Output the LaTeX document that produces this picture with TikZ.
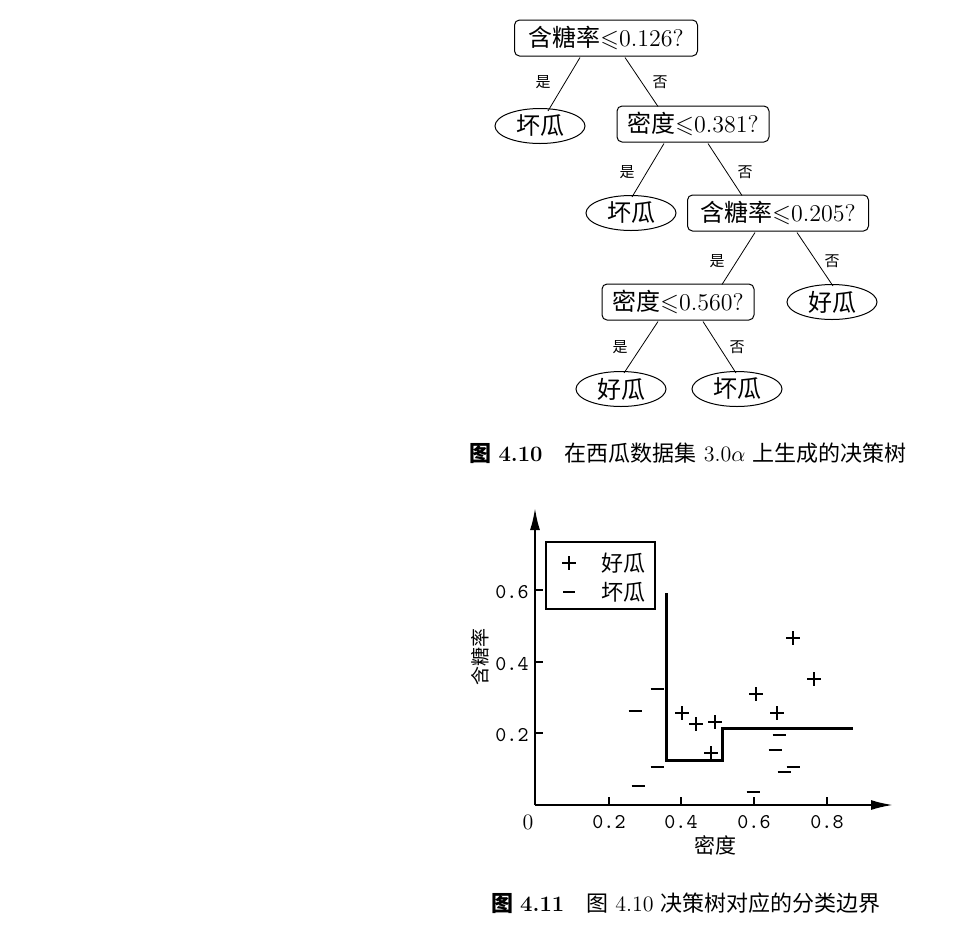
\documentclass[tikz,border=0pt]{standalone}
\usepackage{amssymb}
\usepackage{fontspec}
\newfontfamily\cjk{Noto Sans CJK SC}
\usetikzlibrary{shapes.geometric,calc,arrows.meta}
\begin{document}
\begin{tikzpicture}[x=0.5pt,y=-0.5pt,
  qbox/.style={draw, rounded corners=2.5pt, inner sep=0pt, minimum height=18pt, line width=0.5pt, font=\fontsize{12}{14}\selectfont},
  leaf/.style={draw, ellipse, inner sep=0pt, minimum width=45pt, minimum height=17.5pt, line width=0.5pt, font=\fontsize{12}{14}\selectfont\cjk},
  yn/.style={inner sep=0pt, font=\fontsize{7.5}{8}\selectfont\cjk},
  treeedge/.style={line width=0.4pt},
  axisline/.style={line width=1pt, -{Latex[length=11pt,width=5pt]}},
  tk/.style={line width=0.8pt},
  tlab/.style={inner sep=0pt, font=\fontsize{10.5}{12}\selectfont\ttfamily},
  bd/.style={line width=1.5pt},
  mk/.style={line width=1pt},
  captext/.style={inner sep=0pt, font=\fontsize{11}{13}\selectfont}
]
\useasboundingbox (0,0) rectangle (965,938);

% ---------------- tree ----------------
\node[qbox, minimum width=91.5pt] (n1) at (606,38) {{\cjk 含糖率}$\leqslant$0.126?};
\node[leaf] (l1) at (540,126) {坏瓜};
\node[qbox, minimum width=76pt] (n2) at (693,124) {{\cjk 密度}$\leqslant$0.381?};
\node[leaf] (l2) at (631,213) {坏瓜};
\node[qbox, minimum width=90.5pt] (n3) at (778,213) {{\cjk 含糖率}$\leqslant$0.205?};
\node[qbox, minimum width=76pt] (n4) at (678,302) {{\cjk 密度}$\leqslant$0.560?};
\node[leaf] (l3) at (832,302) {好瓜};
\node[leaf] (l4) at (621,389) {好瓜};
\node[leaf] (l5) at (737,389) {坏瓜};

\draw[treeedge] ($(n1.south)+(-26,1)$) -- ($(l1.north)+(8,3)$);
\draw[treeedge] ($(n1.south)+(19,1)$) -- ($(n2.north)+(-35,1)$);
\draw[treeedge] ($(n2.south)+(-29,1)$) -- ($(l2.north)+(1,2)$);
\draw[treeedge] ($(n2.south)+(15,1)$) -- ($(n3.north)+(-36,1)$);
\draw[treeedge] ($(n3.south)+(-23,1)$) -- ($(n4.north)+(44,1)$);
\draw[treeedge] ($(n3.south)+(19,1)$) -- ($(l3.north)+(1,2)$);
\draw[treeedge] ($(n4.south)+(-20,1)$) -- ($(l4.north)+(3,2)$);
\draw[treeedge] ($(n4.south)+(25,1)$) -- ($(l5.north)+(-1,2)$);

\node[yn] (y1) at (543,82) {是};
\node[yn] (f1) at (660,82) {否};
\node[yn] (y2) at (627,172) {是};
\node[yn] (f2) at (745,172) {否};
\node[yn] (y3) at (717,261) {是};
\node[yn] (f3) at (832,261) {否};
\node[yn] (y4) at (620,347) {是};
\node[yn] (f4) at (737,347) {否};

\node[captext] (cap1) at (688,453) {{\cjk\bfseries 图}\ \textbf{4.10}\quad{\cjk 在西瓜数据集}\ 3.0$\alpha$\ {\cjk 上生成的决策树}};

% ---------------- plot ----------------
\coordinate (O) at (535,805);
\coordinate (Ytip) at (535,508);
\coordinate (Xtip) at (893,805);
\draw[axisline] (O) -- (Ytip);
\draw[axisline] (O) -- (Xtip);

\foreach \x in {609,681,754,827} \draw[tk] (\x,805) -- (\x,797);
\foreach \y in {590,662,733} \draw[tk] (535,\y) -- (543,\y);

\node[tlab] (xt2) at (609,822) {0.2};
\node[tlab] (xt4) at (681,822) {0.4};
\node[tlab] (xt6) at (754,822) {0.6};
\node[tlab] (xt8) at (827,822) {0.8};
\node[inner sep=0pt, font=\fontsize{11}{12}\selectfont] (x0) at (528,822) {0};
\node[tlab] (yt6) at (512,592) {0.6};
\node[tlab] (yt4) at (512,664) {0.4};
\node[tlab] (yt2) at (512,735) {0.2};

\node[inner sep=0pt, font=\fontsize{10.5}{12}\selectfont\cjk] (xl) at (715,845) {密度};
\node[inner sep=0pt, rotate=90, font=\fontsize{9.5}{11}\selectfont\cjk] (yl) at (480,657) {含糖率};

% legend
\draw[line width=0.6pt] (546,542) rectangle (655,609);
\draw[mk] (562,563) -- (576,563) (569,556) -- (569,570);
\draw[mk] (563,592) -- (575,592);
\node[inner sep=0pt, font=\fontsize{11}{12}\selectfont\cjk] (lg1) at (623,563) {好瓜};
\node[inner sep=0pt, font=\fontsize{11}{12}\selectfont\cjk] (lg2) at (623,592) {坏瓜};

% boundary
\draw[bd] (666,593) -- (666,760) -- (722,760) -- (722,728) -- (853,728);

% good (+)
\foreach \x/\y in {682/713, 696/724, 715/722, 711/753, 756/694, 793/638, 814/679, 777/713}
  \draw[mk] (\x-7,\y) -- (\x+7,\y) (\x,\y-7) -- (\x,\y+7);
% bad (-)
\foreach \x/\y in {635/711, 657/689, 657/767, 638/786, 779/735, 775/750, 784/772, 793/767, 753/792}
  \draw[mk] (\x-6.5,\y) -- (\x+6.5,\y);

\node[captext] (cap2) at (686,903) {{\cjk\bfseries 图}\ \textbf{4.11}\quad{\cjk 图}\ 4.10\ {\cjk 决策树对应的分类边界}};
\end{tikzpicture}
\end{document}
